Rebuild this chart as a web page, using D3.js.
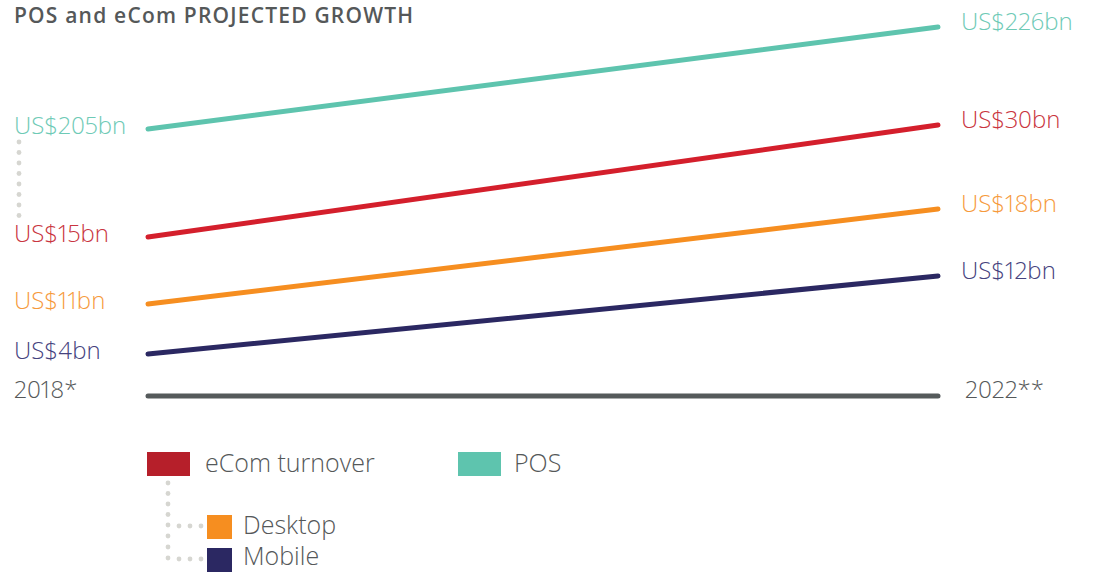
<!DOCTYPE html>
<html>
<head>
<meta charset="utf-8">
<script src="https://cdn.jsdelivr.net/npm/d3@7"></script>
<style>
  html, body { margin: 0; padding: 0; background: #fff; }
  svg { display: block; }
  text { font-family: "Open Sans", "Noto Sans", sans-serif; font-variant-numeric: proportional-nums; }
</style>
</head>
<body>
<svg id="chart" width="1100" height="572"></svg>
<script>
// ---- data ----
const years = ["2018*", "2022**"];
const seriesNames = ["POS", "eCom turnover", "Desktop", "Mobile"];
const values2018 = [205, 15, 11, 4];
const values2022 = [226, 30, 18, 12];
const valueLabels2018 = ["US$205bn", "US$15bn", "US$11bn", "US$4bn"];
const valueLabels2022 = ["US$226bn", "US$30bn", "US$18bn", "US$12bn"];

const lineColors = {
  "POS": "#5ec4ae",
  "eCom turnover": "#d41f2c",
  "Desktop": "#f68e20",
  "Mobile": "#2b2862"
};
const textColors = {
  "POS": "#6ecab6",
  "eCom turnover": "#c93540",
  "Desktop": "#f69a3c",
  "Mobile": "#45427e"
};
const swatchColors = {
  "POS": "#5ec4ae",
  "eCom turnover": "#b61f2a",
  "Desktop": "#f68e20",
  "Mobile": "#2b2862"
};

const svg = d3.select("#chart");
const grey = "#555859";

// Title
svg.append("text")
  .attr("x", 14).attr("y", 23)
  .attr("font-size", 21).attr("font-weight", 600)
  .attr("letter-spacing", 1.2)
  .attr("fill", grey)
  .text("POS and eCom PROJECTED GROWTH");

// x: the two year columns
const x = d3.scalePoint().domain(years).range([148, 938]);

// y: each year column uses a broken (piecewise) value axis,
// so the large POS figure and the small eCom figures share one panel.
const asc = arr => arr.slice().sort(d3.ascending);
const yLeft = d3.scaleLinear().domain(asc(values2018)).range([354, 304, 237, 129]);
const yRight = d3.scaleLinear().domain(asc(values2022)).range([276, 209, 125, 27]);

const data = seriesNames.map((name, i) => ({
  name,
  v0: values2018[i], v1: values2022[i],
  l0: valueLabels2018[i], l1: valueLabels2022[i]
}));

// Baseline (time axis)
svg.append("line")
  .attr("x1", x(years[0])).attr("x2", x(years[1]))
  .attr("y1", 396).attr("y2", 396)
  .attr("stroke", "#555a5b").attr("stroke-width", 5)
  .attr("stroke-linecap", "round");

svg.append("text").attr("x", 14).attr("y", 398)
  .attr("font-size", 24).attr("font-weight", 300).attr("fill", grey)
  .text(years[0]);
svg.append("text").attr("x", 965).attr("y", 398)
  .attr("font-size", 24).attr("font-weight", 300).attr("fill", grey)
  .text(years[1]);

// Series lines
const line = d3.line().x(d => d[0]).y(d => d[1]);
svg.selectAll("path.series")
  .data(data)
  .join("path")
  .attr("class", "series")
  .attr("d", d => line([[x(years[0]), yLeft(d.v0)], [x(years[1]), yRight(d.v1)]]))
  .attr("fill", "none")
  .attr("stroke", d => lineColors[d.name])
  .attr("stroke-width", 5)
  .attr("stroke-linecap", "round");

// Value labels
svg.selectAll("text.left")
  .data(data)
  .join("text")
  .attr("class", "left")
  .attr("x", 14)
  .attr("y", d => yLeft(d.v0) + 5)
  .attr("font-size", 24).attr("font-weight", 300)
  .attr("fill", d => textColors[d.name])
  .text(d => d.l0);

svg.selectAll("text.right")
  .data(data)
  .join("text")
  .attr("class", "right")
  .attr("x", 961)
  .attr("y", d => yRight(d.v1) + 3)
  .attr("font-size", 24).attr("font-weight", 300)
  .attr("fill", d => textColors[d.name])
  .text(d => d.l1);

// Dotted connector between POS and eCom at 2018
const dotColor = "#d6d6d1";
d3.range(8).forEach(i => {
  svg.append("circle").attr("cx", 19).attr("cy", 142 + i * 10.5)
    .attr("r", 2.4).attr("fill", dotColor);
});

// Legend
const lg = svg.append("g");
const legendFont = 25;
lg.append("rect").attr("x", 147).attr("y", 452).attr("width", 43).attr("height", 24)
  .attr("fill", swatchColors["eCom turnover"]);
lg.append("text").attr("x", 205).attr("y", 472)
  .attr("font-size", legendFont).attr("font-weight", 300).attr("fill", grey)
  .text("eCom turnover");
lg.append("rect").attr("x", 458).attr("y", 452).attr("width", 43).attr("height", 24)
  .attr("fill", swatchColors["POS"]);
lg.append("text").attr("x", 514).attr("y", 472)
  .attr("font-size", legendFont).attr("font-weight", 300).attr("fill", grey)
  .text("POS");

// Legend tree dots
[483, 493.5, 504, 514.5, 525, 536, 547, 558].forEach(cy => {
  lg.append("circle").attr("cx", 168).attr("cy", cy).attr("r", 2.4).attr("fill", dotColor);
});
[179, 190, 201].forEach(cx => {
  lg.append("circle").attr("cx", cx).attr("cy", 526).attr("r", 2.4).attr("fill", dotColor);
  lg.append("circle").attr("cx", cx).attr("cy", 559).attr("r", 2.4).attr("fill", dotColor);
});

lg.append("rect").attr("x", 207).attr("y", 515).attr("width", 25).attr("height", 24)
  .attr("fill", swatchColors["Desktop"]);
lg.append("text").attr("x", 243).attr("y", 534)
  .attr("font-size", legendFont).attr("font-weight", 300).attr("fill", grey)
  .text("Desktop");
lg.append("rect").attr("x", 207).attr("y", 548).attr("width", 25).attr("height", 24)
  .attr("fill", swatchColors["Mobile"]);
lg.append("text").attr("x", 243).attr("y", 565)
  .attr("font-size", legendFont).attr("font-weight", 300).attr("fill", grey)
  .text("Mobile");
</script>
</body>
</html>
